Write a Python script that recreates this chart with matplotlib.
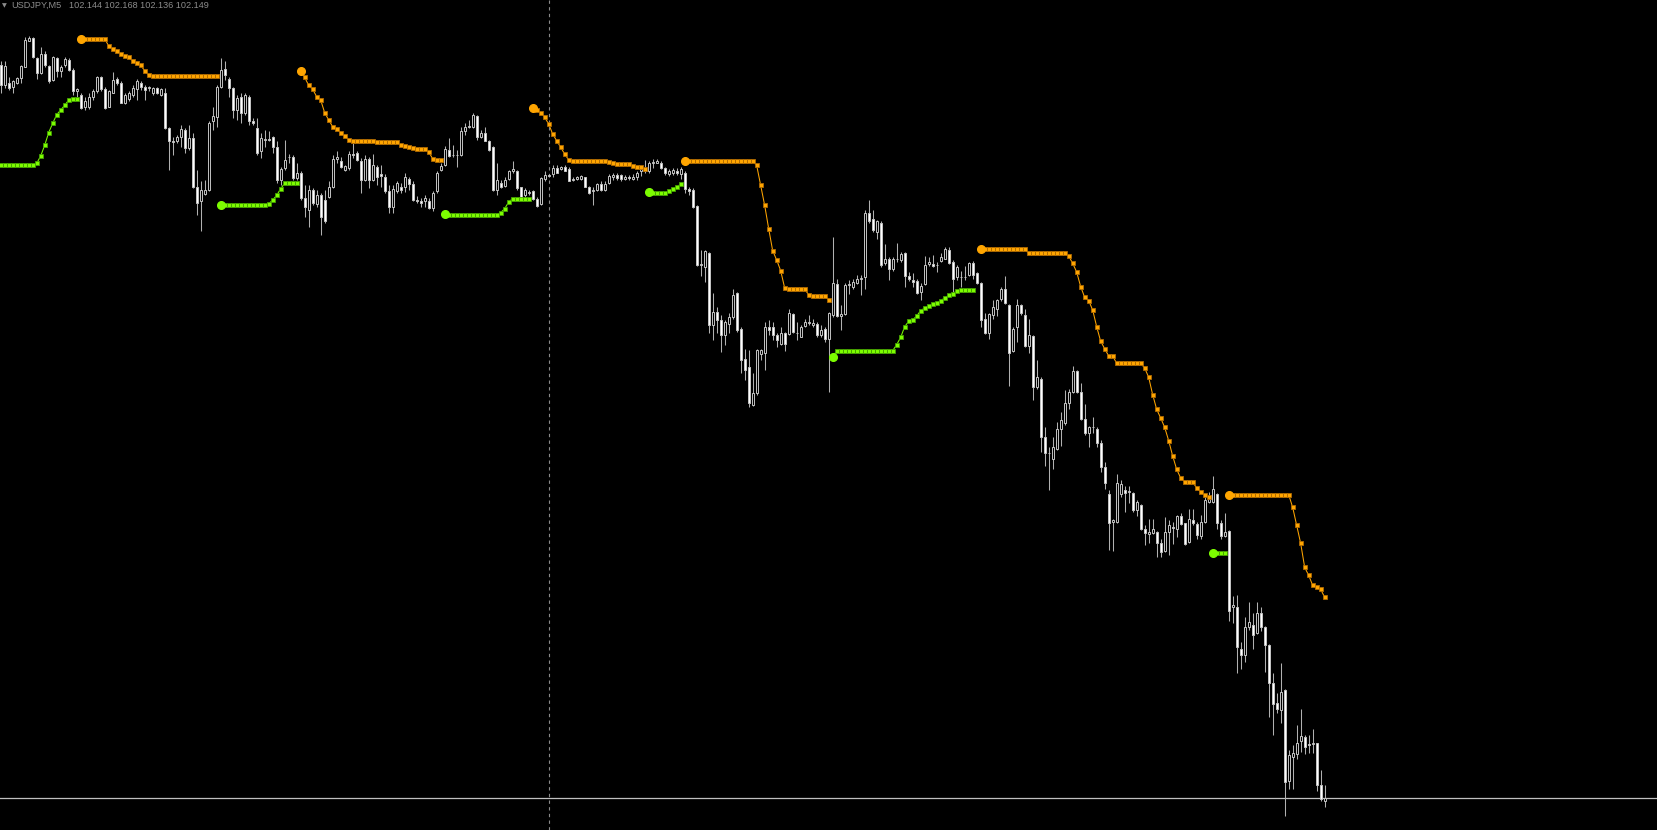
import numpy as np
import matplotlib
matplotlib.use("Agg")
import matplotlib.pyplot as plt


FIGSIZE = (16.58, 8.30)
DPI = 100

SYMBOL = "USDJPY,M5"
LAST_BAR = "102.144 102.168 102.136 102.149"

# M5 candles, oldest first
OPEN = [
    103.249, 103.218, 103.222, 103.215, 103.222, 103.229, 103.246, 103.285, 103.289, 103.259,
    103.236, 103.265, 103.247, 103.226, 103.259, 103.239, 103.249, 103.256, 103.241, 103.209,
    103.204, 103.185, 103.185, 103.201, 103.209, 103.230, 103.212, 103.186, 103.207, 103.227,
    103.222, 103.192, 103.197, 103.204, 103.212, 103.221, 103.215, 103.214, 103.207, 103.214,
    103.204, 103.207, 103.154, 103.134, 103.134, 103.141, 103.151, 103.124, 103.139, 103.066,
    103.044, 103.055, 103.061, 103.164, 103.171, 103.216, 103.242, 103.227, 103.214, 103.181,
    103.201, 103.176, 103.201, 103.165, 103.154, 103.119, 103.136, 103.137, 103.141, 103.126,
    103.076, 103.094, 103.110, 103.110, 103.079, 103.086, 103.049, 103.031, 103.061, 103.040,
    103.054, 103.046, 103.051, 103.066, 103.107, 103.105, 103.091, 103.094, 103.115, 103.116,
    103.105, 103.076, 103.107, 103.076, 103.096, 103.085, 103.081, 103.060, 103.036, 103.060,
    103.065, 103.065, 103.077, 103.070, 103.046, 103.044, 103.044, 103.045, 103.034, 103.059,
    103.091, 103.099, 103.121, 103.113, 103.114, 103.114, 103.150, 103.156, 103.156, 103.172,
    103.141, 103.147, 103.134, 103.125, 103.061, 103.071, 103.067, 103.077, 103.089, 103.089,
    103.065, 103.054, 103.057, 103.059, 103.048, 103.040, 103.077, 103.082, 103.085, 103.094,
    103.092, 103.095, 103.092, 103.076, 103.077, 103.078, 103.080, 103.066, 103.059, 103.061,
    103.070, 103.061, 103.071, 103.080, 103.084, 103.084, 103.078, 103.081, 103.077, 103.081,
    103.089, 103.091, 103.089, 103.101, 103.102, 103.102, 103.094, 103.085, 103.086, 103.090,
    103.085, 103.087, 103.062, 103.061, 103.037, 102.948, 102.946, 102.967, 102.858, 102.878,
    102.866, 102.843, 102.860, 102.870, 102.906, 102.853, 102.808, 102.796, 102.738, 102.756,
    102.815, 102.816, 102.856, 102.855, 102.843, 102.830, 102.847, 102.845, 102.875, 102.847,
    102.841, 102.857, 102.862, 102.858, 102.860, 102.843, 102.852, 102.838, 102.873, 102.920,
    102.872, 102.875, 102.919, 102.916, 102.922, 102.927, 102.930, 103.026, 103.017, 102.998,
    103.011, 102.951, 102.958, 102.942, 102.958, 102.956, 102.966, 102.932, 102.926, 102.925,
    102.908, 102.920, 102.950, 102.950, 102.948, 102.955, 102.958, 102.971, 102.953, 102.930,
    102.930, 102.931, 102.933, 102.952, 102.937, 102.922, 102.867, 102.846, 102.873, 102.883,
    102.897, 102.913, 102.888, 102.820, 102.856, 102.888, 102.873, 102.827, 102.842, 102.766,
    102.778, 102.690, 102.666, 102.658, 102.673, 102.702, 102.711, 102.741, 102.758, 102.790,
    102.758, 102.718, 102.696, 102.706, 102.703, 102.681, 102.646, 102.605, 102.563, 102.563,
    102.605, 102.611, 102.608, 102.607, 102.581, 102.588, 102.552, 102.545, 102.546, 102.548,
    102.532, 102.520, 102.548, 102.555, 102.552, 102.572, 102.561, 102.533, 102.566, 102.560,
    102.542, 102.563, 102.593, 102.593, 102.605, 102.561, 102.542, 102.550, 102.435, 102.436,
    102.373, 102.363, 102.406, 102.408, 102.397, 102.426, 102.406, 102.378, 102.321, 102.291,
    102.281, 102.311, 102.175, 102.211, 102.215, 102.235, 102.240, 102.230, 102.230, 102.231,
    102.168, 102.144,
]

HIGH = [
    103.254, 103.254, 103.231, 103.226, 103.231, 103.249, 103.291, 103.292, 103.291, 103.261,
    103.276, 103.269, 103.249, 103.262, 103.260, 103.249, 103.260, 103.259, 103.244, 103.214,
    103.206, 103.201, 103.207, 103.212, 103.232, 103.232, 103.215, 103.211, 103.238, 103.231,
    103.224, 103.206, 103.210, 103.219, 103.227, 103.224, 103.219, 103.217, 103.215, 103.215,
    103.214, 103.214, 103.156, 103.141, 103.144, 103.159, 103.154, 103.159, 103.146, 103.091,
    103.074, 103.076, 103.164, 103.186, 103.219, 103.259, 103.254, 103.231, 103.216, 103.204,
    103.206, 103.206, 103.204, 103.169, 103.169, 103.146, 103.151, 103.149, 103.142, 103.134,
    103.096, 103.136, 103.115, 103.114, 103.101, 103.089, 103.069, 103.069, 103.064, 103.061,
    103.056, 103.061, 103.074, 103.114, 103.119, 103.111, 103.099, 103.119, 103.132, 103.119,
    103.109, 103.114, 103.111, 103.115, 103.099, 103.099, 103.085, 103.069, 103.069, 103.074,
    103.071, 103.086, 103.081, 103.074, 103.052, 103.049, 103.054, 103.049, 103.059, 103.090,
    103.102, 103.127, 103.139, 103.129, 103.121, 103.156, 103.162, 103.166, 103.176, 103.174,
    103.151, 103.155, 103.136, 103.127, 103.101, 103.076, 103.081, 103.091, 103.104, 103.091,
    103.066, 103.064, 103.061, 103.061, 103.051, 103.080, 103.089, 103.085, 103.099, 103.099,
    103.097, 103.099, 103.095, 103.081, 103.082, 103.084, 103.081, 103.067, 103.066, 103.072,
    103.074, 103.074, 103.085, 103.087, 103.087, 103.085, 103.084, 103.084, 103.085, 103.090,
    103.095, 103.106, 103.104, 103.107, 103.107, 103.105, 103.095, 103.092, 103.094, 103.094,
    103.095, 103.089, 103.065, 103.064, 103.039, 102.971, 102.971, 102.968, 102.906, 102.886,
    102.873, 102.866, 102.876, 102.912, 102.908, 102.856, 102.823, 102.821, 102.786, 102.822,
    102.823, 102.863, 102.866, 102.863, 102.847, 102.856, 102.848, 102.883, 102.877, 102.863,
    102.858, 102.867, 102.873, 102.868, 102.863, 102.858, 102.855, 102.878, 102.991, 102.928,
    102.888, 102.921, 102.926, 102.928, 102.933, 102.933, 103.031, 103.046, 103.031, 103.016,
    103.014, 102.980, 102.961, 102.961, 102.981, 102.968, 102.968, 102.938, 102.936, 102.927,
    102.921, 102.962, 102.961, 102.963, 102.953, 102.966, 102.976, 102.976, 102.956, 102.948,
    102.940, 102.947, 102.953, 102.954, 102.938, 102.923, 102.877, 102.877, 102.896, 102.897,
    102.916, 102.932, 102.890, 102.856, 102.897, 102.890, 102.883, 102.867, 102.843, 102.806,
    102.781, 102.706, 102.676, 102.691, 102.713, 102.728, 102.761, 102.763, 102.797, 102.791,
    102.771, 102.740, 102.707, 102.720, 102.706, 102.686, 102.653, 102.611, 102.568, 102.635,
    102.626, 102.617, 102.617, 102.608, 102.596, 102.590, 102.558, 102.567, 102.568, 102.550,
    102.538, 102.571, 102.566, 102.563, 102.573, 102.576, 102.562, 102.583, 102.582, 102.563,
    102.573, 102.603, 102.608, 102.632, 102.606, 102.566, 102.576, 102.551, 102.452, 102.453,
    102.383, 102.421, 102.443, 102.427, 102.443, 102.436, 102.407, 102.380, 102.336, 102.306,
    102.352, 102.312, 102.221, 102.228, 102.258, 102.283, 102.243, 102.243, 102.253, 102.232,
    102.191, 102.168,
]

LOW = [
    103.206, 103.214, 103.211, 103.206, 103.220, 103.221, 103.246, 103.284, 103.259, 103.227,
    103.235, 103.246, 103.221, 103.225, 103.231, 103.231, 103.246, 103.239, 103.204, 103.201,
    103.182, 103.181, 103.182, 103.196, 103.207, 103.210, 103.182, 103.185, 103.206, 103.219,
    103.191, 103.190, 103.195, 103.201, 103.196, 103.211, 103.196, 103.210, 103.204, 103.205,
    103.202, 103.152, 103.091, 103.114, 103.131, 103.126, 103.117, 103.121, 103.064, 103.024,
    102.999, 103.054, 103.059, 103.151, 103.156, 103.214, 103.226, 103.201, 103.169, 103.166,
    103.161, 103.174, 103.159, 103.159, 103.114, 103.109, 103.126, 103.134, 103.116, 103.071,
    103.069, 103.091, 103.101, 103.076, 103.076, 103.046, 103.021, 103.006, 103.039, 103.036,
    102.994, 103.011, 103.049, 103.064, 103.101, 103.094, 103.089, 103.091, 103.109, 103.105,
    103.057, 103.074, 103.064, 103.074, 103.069, 103.066, 103.056, 103.026, 103.026, 103.056,
    103.056, 103.058, 103.061, 103.044, 103.041, 103.036, 103.035, 103.032, 103.029, 103.056,
    103.089, 103.097, 103.111, 103.111, 103.095, 103.112, 103.144, 103.154, 103.154, 103.136,
    103.139, 103.134, 103.120, 103.059, 103.054, 103.064, 103.066, 103.076, 103.086, 103.061,
    103.049, 103.051, 103.054, 103.046, 103.035, 103.039, 103.075, 103.080, 103.081, 103.086,
    103.091, 103.089, 103.074, 103.074, 103.076, 103.076, 103.065, 103.055, 103.039, 103.059,
    103.060, 103.059, 103.070, 103.076, 103.076, 103.074, 103.076, 103.076, 103.076, 103.076,
    103.082, 103.086, 103.087, 103.094, 103.101, 103.092, 103.084, 103.082, 103.084, 103.084,
    103.077, 103.056, 103.054, 103.034, 102.947, 102.932, 102.923, 102.846, 102.836, 102.846,
    102.818, 102.828, 102.846, 102.868, 102.848, 102.786, 102.776, 102.736, 102.737, 102.753,
    102.806, 102.791, 102.843, 102.836, 102.825, 102.828, 102.820, 102.843, 102.847, 102.836,
    102.840, 102.856, 102.858, 102.856, 102.841, 102.841, 102.833, 102.758, 102.871, 102.871,
    102.851, 102.873, 102.905, 102.913, 102.920, 102.903, 102.913, 103.011, 102.998, 102.988,
    102.946, 102.948, 102.926, 102.940, 102.953, 102.953, 102.916, 102.925, 102.916, 102.905,
    102.896, 102.918, 102.947, 102.946, 102.938, 102.953, 102.957, 102.950, 102.906, 102.926,
    102.916, 102.926, 102.932, 102.928, 102.920, 102.856, 102.845, 102.838, 102.868, 102.872,
    102.895, 102.890, 102.767, 102.818, 102.833, 102.873, 102.826, 102.816, 102.746, 102.763,
    102.668, 102.647, 102.611, 102.642, 102.671, 102.677, 102.708, 102.733, 102.757, 102.757,
    102.716, 102.693, 102.676, 102.697, 102.675, 102.638, 102.613, 102.521, 102.520, 102.562,
    102.600, 102.578, 102.591, 102.578, 102.572, 102.551, 102.528, 102.531, 102.545, 102.511,
    102.511, 102.518, 102.513, 102.530, 102.541, 102.558, 102.528, 102.532, 102.558, 102.537,
    102.538, 102.562, 102.591, 102.592, 102.553, 102.538, 102.541, 102.415, 102.412, 102.336,
    102.343, 102.353, 102.401, 102.372, 102.395, 102.400, 102.338, 102.271, 102.243, 102.276,
    102.261, 102.122, 102.163, 102.163, 102.207, 102.218, 102.215, 102.216, 102.216, 102.160,
    102.145, 102.136,
]

CLOSE = [
    103.218, 103.247, 103.214, 103.224, 103.229, 103.247, 103.286, 103.289, 103.261, 103.236,
    103.265, 103.249, 103.224, 103.260, 103.239, 103.246, 103.257, 103.241, 103.209, 103.212,
    103.184, 103.194, 103.201, 103.209, 103.230, 103.212, 103.184, 103.209, 103.226, 103.221,
    103.192, 103.204, 103.207, 103.214, 103.224, 103.215, 103.211, 103.215, 103.214, 103.207,
    103.212, 103.154, 103.134, 103.133, 103.141, 103.152, 103.124, 103.139, 103.066, 103.041,
    103.061, 103.061, 103.162, 103.172, 103.215, 103.241, 103.234, 103.214, 103.181, 103.199,
    103.176, 103.204, 103.165, 103.162, 103.116, 103.139, 103.137, 103.136, 103.126, 103.076,
    103.092, 103.106, 103.111, 103.079, 103.086, 103.049, 103.036, 103.061, 103.041, 103.054,
    103.021, 103.014, 103.066, 103.107, 103.110, 103.096, 103.097, 103.115, 103.114, 103.106,
    103.076, 103.107, 103.076, 103.099, 103.081, 103.082, 103.059, 103.036, 103.063, 103.072,
    103.061, 103.080, 103.070, 103.046, 103.044, 103.042, 103.049, 103.034, 103.057, 103.086,
    103.097, 103.122, 103.112, 103.114, 103.113, 103.149, 103.156, 103.157, 103.174, 103.140,
    103.147, 103.135, 103.121, 103.061, 103.076, 103.066, 103.076, 103.089, 103.092, 103.064,
    103.050, 103.061, 103.058, 103.048, 103.037, 103.079, 103.084, 103.083, 103.094, 103.087,
    103.095, 103.090, 103.075, 103.078, 103.080, 103.082, 103.066, 103.057, 103.061, 103.070,
    103.061, 103.070, 103.082, 103.084, 103.079, 103.077, 103.081, 103.079, 103.081, 103.086,
    103.092, 103.090, 103.102, 103.103, 103.105, 103.094, 103.086, 103.090, 103.091, 103.087,
    103.092, 103.062, 103.060, 103.036, 102.948, 102.950, 102.970, 102.858, 102.878, 102.866,
    102.843, 102.863, 102.870, 102.903, 102.851, 102.806, 102.791, 102.741, 102.756, 102.821,
    102.821, 102.855, 102.851, 102.843, 102.836, 102.847, 102.830, 102.876, 102.848, 102.846,
    102.855, 102.863, 102.863, 102.862, 102.843, 102.851, 102.838, 102.876, 102.922, 102.872,
    102.875, 102.918, 102.920, 102.923, 102.927, 102.929, 103.026, 103.014, 103.001, 103.014,
    102.948, 102.958, 102.942, 102.958, 102.957, 102.965, 102.932, 102.927, 102.923, 102.907,
    102.917, 102.948, 102.953, 102.947, 102.949, 102.960, 102.973, 102.952, 102.928, 102.946,
    102.931, 102.930, 102.952, 102.933, 102.922, 102.866, 102.847, 102.875, 102.885, 102.896,
    102.913, 102.891, 102.817, 102.853, 102.888, 102.876, 102.827, 102.843, 102.766, 102.781,
    102.691, 102.666, 102.667, 102.675, 102.703, 102.716, 102.742, 102.758, 102.790, 102.758,
    102.718, 102.696, 102.706, 102.705, 102.682, 102.646, 102.621, 102.562, 102.566, 102.621,
    102.620, 102.606, 102.610, 102.581, 102.593, 102.552, 102.546, 102.548, 102.552, 102.532,
    102.518, 102.548, 102.558, 102.554, 102.572, 102.560, 102.530, 102.567, 102.561, 102.543,
    102.563, 102.596, 102.598, 102.613, 102.562, 102.542, 102.548, 102.430, 102.438, 102.375,
    102.363, 102.406, 102.413, 102.393, 102.426, 102.406, 102.378, 102.321, 102.290, 102.282,
    102.308, 102.173, 102.213, 102.216, 102.231, 102.242, 102.226, 102.228, 102.231, 102.168,
    102.147, 102.149,
]

# trailing stop indicator: first bar of each run, then one level per bar
RES_STARTS = [20, 75, 133, 171, 245, 307]
RES_LEVELS = [
    [103.288] * 7
    + [103.277, 103.272, 103.270, 103.265, 103.262, 103.260, 103.254, 103.251, 103.248, 103.240, 103.233]
    + [103.232] * 17,
    [103.240, 103.230, 103.218, 103.212, 103.201, 103.196, 103.177, 103.166, 103.156, 103.153, 103.147,
     103.142, 103.136]
    + [103.134] * 6 + [103.133] * 6
    + [103.128, 103.127, 103.126, 103.124, 103.123, 103.122, 103.122, 103.118, 103.108, 103.106, 103.106],
    [103.184, 103.181, 103.177, 103.170, 103.160, 103.145, 103.135, 103.125, 103.115, 103.106]
    + [103.104] * 9 + [103.103, 103.102] + [103.100] * 4
    + [103.097, 103.096, 103.095, 103.093],
    [103.104] * 18
    + [103.098, 103.068, 103.038, 103.003, 102.970, 102.956, 102.940, 102.914]
    + [102.912] * 5 + [102.904] + [102.902] * 4 + [102.896],
    [102.972] * 12 + [102.966] * 10
    + [102.962, 102.951, 102.938, 102.916, 102.900, 102.895, 102.881, 102.856, 102.834, 102.823,
       102.812, 102.812]
    + [102.801] * 7
    + [102.794, 102.780, 102.754, 102.732, 102.719, 102.705, 102.685, 102.662, 102.642, 102.629,
       102.623, 102.623, 102.623, 102.614, 102.608, 102.603, 102.600],
    [102.604] * 16
    + [102.585, 102.558, 102.531, 102.495, 102.483, 102.468, 102.465, 102.462, 102.450],
]

SUP_STARTS = [0, 55, 111, 162, 208, 303]
SUP_LEVELS = [
    [103.098] * 9
    + [103.101, 103.112, 103.128, 103.147, 103.161, 103.174, 103.181, 103.188, 103.196, 103.198, 103.198],
    [103.038] * 12 + [103.040, 103.046, 103.053, 103.063] + [103.071] * 4,
    [103.025] + [103.024] * 13 + [103.027, 103.033, 103.043] + [103.048] * 5,
    [103.058] + [103.057] * 4 + [103.059, 103.063, 103.065, 103.070],
    [102.810] + [102.820] * 15
    + [102.829, 102.840, 102.856, 102.864, 102.866, 102.872, 102.880, 102.884, 102.887, 102.890,
       102.891, 102.895, 102.899, 102.903, 102.905, 102.910]
    + [102.911] * 4,
    [102.517] + [102.516] * 3,
]

CURSOR_BAR = 137

BG = "#000000"
BEAR_FACE = "#ffffff"
BULL_FACE = "#000000"
BODY_EDGE = "#c4c4c4"
WICK = "#b0b0b0"
ORANGE = "#ffa500"
ORANGE_EDGE = "#b06a00"
GREEN = "#7cfc00"
GREEN_EDGE = "#45a000"
TEXT_GRAY = "#8c8c8c"


def plot_candles(ax):
    o = np.array(OPEN)
    h = np.array(HIGH)
    l = np.array(LOW)
    c = np.array(CLOSE)
    x = np.arange(len(c))

    top = np.maximum(np.maximum(o, c), h)
    bot = np.minimum(np.minimum(o, c), l)
    ax.vlines(x, bot, top, color=WICK, lw=0.75, zorder=2)

    body_lo = np.minimum(o, c)
    body_h = np.maximum(np.abs(c - o), 0.0009)
    face = [BEAR_FACE if cc < oo else BULL_FACE for oo, cc in zip(o, c)]
    ax.bar(x, body_h, bottom=body_lo, width=0.5, color=face,
           edgecolor=BODY_EDGE, linewidth=0.7, zorder=3)


def plot_trail(ax, starts, levels, color, edge):
    for start, vals in zip(starts, levels):
        xs = np.arange(start, start + len(vals))
        ax.plot(xs, vals, color=color, lw=0.75, marker="s", ms=2.4,
                mfc=color, mec=edge, mew=0.6, zorder=5)
        # run begins inside the window -> bigger dot on first bar
        if start > 0:
            ax.plot(xs[0], vals[0], "o", ms=5.5, color=color, zorder=6)


def main():
    fig = plt.figure(figsize=FIGSIZE, dpi=DPI, facecolor=BG)
    ax = fig.add_axes([0, 0, 1, 1])
    ax.set_facecolor(BG)

    # 4 px per bar, 0.0015 yen per px
    ax.set_xlim(-0.1675, 414.33)
    ax.set_ylim(102.101, 103.346)
    ax.axis("off")

    ax.axvline(CURSOR_BAR, color="#8a8a8a", lw=0.8, ls=(0, (3, 3)), zorder=1)
    ax.axhline(CLOSE[-1], color="#c0c0c0", lw=0.9, zorder=1)

    plot_candles(ax)
    plot_trail(ax, RES_STARTS, RES_LEVELS, ORANGE, ORANGE_EDGE)
    plot_trail(ax, SUP_STARTS, SUP_LEVELS, GREEN, GREEN_EDGE)

    ty = 1 - 5.5 / 830
    fig.text(2 / 1658, ty, "\u25bc", color=TEXT_GRAY, fontsize=4.5,
             family="DejaVu Sans", va="center", ha="left")
    fig.text(11.7 / 1658, ty, SYMBOL, color=TEXT_GRAY, fontsize=6.6,
             family="Liberation Sans", va="center", ha="left")
    fig.text(69.3 / 1658, ty, LAST_BAR, color=TEXT_GRAY, fontsize=6.6,
             family="Liberation Sans", va="center", ha="left")

    fig.savefig("out.png", dpi=DPI, facecolor=BG)


if __name__ == "__main__":
    main()
